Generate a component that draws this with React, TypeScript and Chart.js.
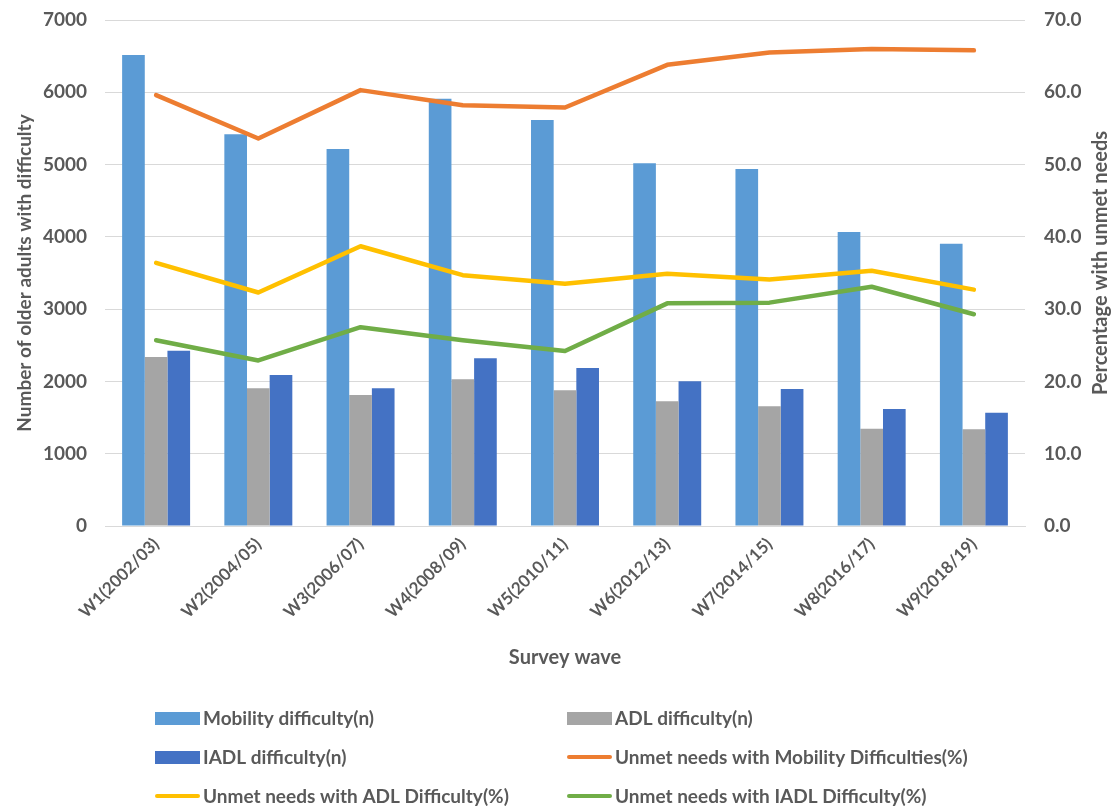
import React, { useEffect, useRef } from "react";
import { Chart, registerables } from "chart.js";

Chart.register(...registerables);

const categories = [
  "W1(2002/03)",
  "W2(2004/05)",
  "W3(2006/07)",
  "W4(2008/09)",
  "W5(2010/11)",
  "W6(2012/13)",
  "W7(2014/15)",
  "W8(2016/17)",
  "W9(2018/19)",
];

const mobilityN = [6515, 5420, 5215, 5910, 5615, 5020, 4940, 4066, 3905];
const adlN = [2337, 1904, 1812, 2029, 1877, 1725, 1656, 1346, 1337];
const iadlN = [2425, 2089, 1904, 2319, 2185, 2001, 1895, 1618, 1567];

const unmetMobilityPct = [59.6, 53.6, 60.3, 58.2, 57.9, 63.8, 65.5, 66.0, 65.8];
const unmetAdlPct = [36.4, 32.3, 38.7, 34.7, 33.5, 34.9, 34.1, 35.3, 32.7];
const unmetIadlPct = [25.7, 22.9, 27.5, 25.7, 24.2, 30.8, 30.9, 33.1, 29.3];

const leftTicksMax = 7000;
const leftTickStep = 1000;
const rightTicksMax = 70;
const rightTickStep = 10;

const leftTitle = "Number of older adults with difficulty";
const rightTitle = "Percentage with unmet needs";
const xTitle = "Survey wave";

const TEXT = "#595959";
const FONT = "Lato";

const legendPlugin = {
  id: "twoColLegend",
  afterDraw(chart: any) {
    const ctx = chart.ctx;
    const ds = chart.data.datasets;
    ctx.save();
    ctx.font = `bold 19px ${FONT}`;
    ctx.textBaseline = "middle";
    ds.forEach((d: any, i: number) => {
      const col = i % 2;
      const row = Math.floor(i / 2);
      const x = col === 0 ? 155 : 567;
      const y = 718 + row * 39;
      if (d.type === "bar") {
        ctx.fillStyle = d.backgroundColor;
        ctx.fillRect(x, y - 6, 45, 13);
      } else {
        ctx.strokeStyle = d.borderColor;
        ctx.lineWidth = 4;
        ctx.lineCap = "round";
        ctx.beginPath();
        ctx.moveTo(x + 2, y);
        ctx.lineTo(x + 43, y);
        ctx.stroke();
      }
      ctx.fillStyle = TEXT;
      ctx.fillText(d.label, x + 48, y + 1);
    });
    ctx.restore();
  },
};

const rightTitlePlugin = {
  id: "rightTitle",
  afterDraw(chart: any) {
    const ctx = chart.ctx;
    const area = chart.chartArea;
    ctx.save();
    ctx.font = `bold 20px ${FONT}`;
    ctx.fillStyle = TEXT;
    ctx.textAlign = "center";
    ctx.textBaseline = "middle";
    ctx.translate(chart.width - 12, (area.top + area.bottom) / 2 - 10);
    ctx.rotate(-Math.PI / 2);
    ctx.fillText(rightTitle, 0, 0);
    ctx.restore();
  },
};

export default function App() {
  const ref = useRef<HTMLCanvasElement | null>(null);

  useEffect(() => {
    document.body.style.margin = "0";
    const canvas = ref.current;
    if (!canvas) return;
    const chart = new Chart(canvas, {
      type: "bar",
      data: {
        labels: categories,
        datasets: [
          {
            type: "bar",
            label: "Mobility difficulty(n)",
            data: mobilityN,
            backgroundColor: "#5B9BD5",
            yAxisID: "y",
            order: 2,
            categoryPercentage: 0.665,
            barPercentage: 1.0,
          },
          {
            type: "bar",
            label: "ADL difficulty(n)",
            data: adlN,
            backgroundColor: "#A5A5A5",
            yAxisID: "y",
            order: 2,
            categoryPercentage: 0.665,
            barPercentage: 1.0,
          },
          {
            type: "bar",
            label: "IADL difficulty(n)",
            data: iadlN,
            backgroundColor: "#4472C4",
            yAxisID: "y",
            order: 2,
            categoryPercentage: 0.665,
            barPercentage: 1.0,
          },
          {
            type: "line",
            label: "Unmet needs with Mobility Difficulties(%)",
            data: unmetMobilityPct,
            borderColor: "#ED7D31",
            backgroundColor: "#ED7D31",
            borderWidth: 4.5,
            pointRadius: 0,
            tension: 0,
            yAxisID: "y1",
            order: 1,
            borderCapStyle: "round",
            borderJoinStyle: "round",
          },
          {
            type: "line",
            label: "Unmet needs with ADL Difficulty(%)",
            data: unmetAdlPct,
            borderColor: "#FFC000",
            backgroundColor: "#FFC000",
            borderWidth: 4.5,
            pointRadius: 0,
            tension: 0,
            yAxisID: "y1",
            order: 1,
            borderCapStyle: "round",
            borderJoinStyle: "round",
          },
          {
            type: "line",
            label: "Unmet needs with IADL Difficulty(%)",
            data: unmetIadlPct,
            borderColor: "#70AD47",
            backgroundColor: "#70AD47",
            borderWidth: 4.5,
            pointRadius: 0,
            tension: 0,
            yAxisID: "y1",
            order: 1,
            borderCapStyle: "round",
            borderJoinStyle: "round",
          },
        ] as any,
      },
      options: {
        responsive: false,
        animation: false,
        devicePixelRatio: 1,
        layout: { padding: { top: 20, left: 0, right: 0, bottom: 132 } },
        plugins: {
          legend: { display: false },
          tooltip: { enabled: false },
        },
        scales: {
          x: {
            grid: { display: false, drawTicks: false },
            border: { display: true, color: "#D9D9D9" },
            ticks: {
              color: TEXT,
              font: { family: FONT, size: 17, weight: "bold" },
              minRotation: 45,
              maxRotation: 45,
              padding: 8,
            },
            title: {
              display: true,
              text: xTitle,
              color: TEXT,
              font: { family: FONT, size: 20, weight: "bold" },
              padding: { top: 0, bottom: 6 },
            },
            afterFit(scale: any) {
              scale.height = 150;
              scale.paddingLeft = 0;
              scale.paddingRight = 0;
            },
          },
          y: {
            position: "left",
            min: 0,
            max: leftTicksMax,
            grid: { color: "#D9D9D9", lineWidth: 1, drawTicks: false },
            border: { display: false },
            ticks: {
              stepSize: leftTickStep,
              color: TEXT,
              font: { family: FONT, size: 19, weight: "bold" },
              padding: 18,
              callback: (v: any) => String(v),
            },
            title: {
              display: true,
              text: leftTitle,
              color: TEXT,
              font: { family: FONT, size: 19, weight: "bold" },
              padding: { top: 13, bottom: 0 },
            },
            afterFit(scale: any) {
              scale.width = 105;
              scale.paddingTop = 0;
              scale.paddingBottom = 0;
            },
          },
          y1: {
            position: "right",
            min: 0,
            max: rightTicksMax,
            grid: { display: false, drawTicks: false },
            border: { display: false },
            ticks: {
              stepSize: rightTickStep,
              color: TEXT,
              font: { family: FONT, size: 19, weight: "bold" },
              padding: 19,
              callback: (v: any) => Number(v).toFixed(1),
            },
            title: { display: false },
            afterFit(scale: any) {
              scale.width = 88;
              scale.paddingTop = 0;
              scale.paddingBottom = 0;
            },
          },
        },
      } as any,
      plugins: [legendPlugin, rightTitlePlugin],
    });
    return () => chart.destroy();
  }, []);

  return (
    <div style={{ width: 1113, height: 808, background: "#fff" }}>
      <canvas ref={ref} width={1113} height={808} style={{ display: "block" }} />
    </div>
  );
}
